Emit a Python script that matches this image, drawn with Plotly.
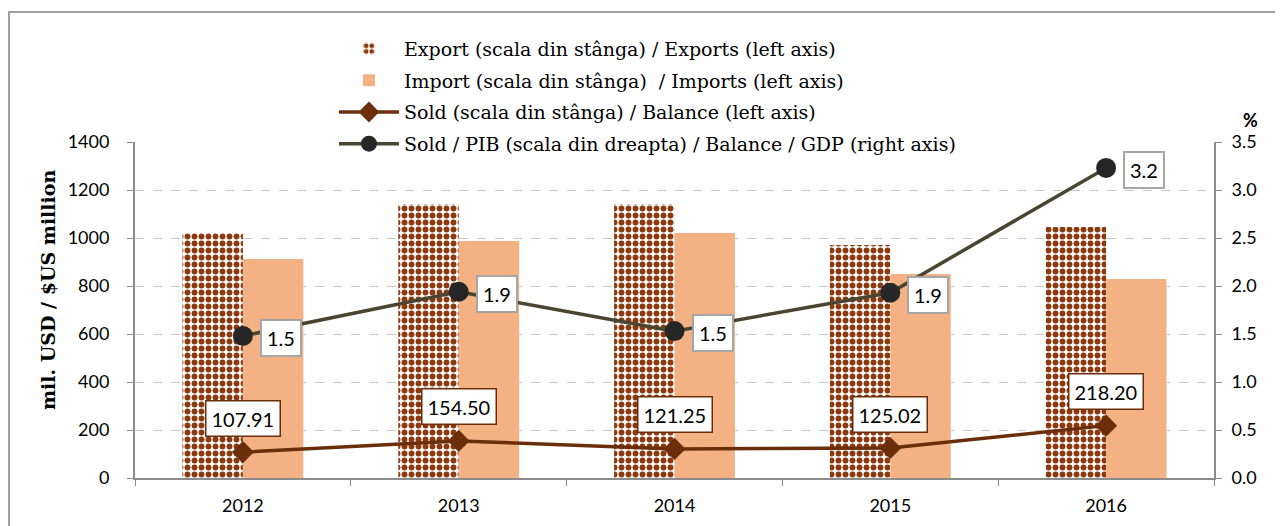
import plotly.graph_objects as go

years = ["2012", "2013", "2014", "2015", "2016"]
exports = [1021, 1142, 1142, 971, 1046]
imports = [912, 988, 1021, 850, 829]
balance = [107.91, 154.50, 121.25, 125.02, 218.20]
balance_gdp = [1.48, 1.94, 1.53, 1.93, 3.23]

left_ticks = [0, 200, 400, 600, 800, 1000, 1200, 1400]
right_ticks = [0.0, 0.5, 1.0, 1.5, 2.0, 2.5, 3.0, 3.5]

BROWN = "#8B3A0F"
SALMON = "#F4B183"
SOLD_C = "#6B2E0A"
GDP_C = "#4A4530"
GRID = "#C8C8C8"
AXIS = "#8C8C8C"

SERIF = "DejaVu Serif"
SANS = "Lato"

fig = go.Figure()

fig.add_trace(go.Bar(
    x=years, y=exports, name="Export (scala din stânga) / Exports (left axis)",
    marker=dict(color="white", line=dict(width=0),
                pattern=dict(shape=".", fgcolor=BROWN, bgcolor="white",
                             fgopacity=1, size=7, solidity=0.55,
                             fillmode="replace")),
    legendgroup="a",
))
fig.add_trace(go.Bar(
    x=years, y=imports, name="Import (scala din stânga)  / Imports (left axis)",
    marker=dict(color=SALMON, line=dict(width=0)),
    legendgroup="b",
))
fig.add_trace(go.Scatter(
    x=years, y=balance, name="Sold (scala din stânga) / Balance (left axis)",
    mode="lines+markers",
    line=dict(color=SOLD_C, width=3.5),
    marker=dict(symbol="diamond", size=17, color=SOLD_C),
    legendgroup="c",
))
fig.add_trace(go.Scatter(
    x=years, y=balance_gdp, name="Sold / PIB (scala din dreapta) / Balance / GDP (right axis)",
    mode="lines+markers", yaxis="y2",
    line=dict(color=GDP_C, width=3.5),
    marker=dict(symbol="circle", size=20, color="#262626"),
    legendgroup="d",
))

annotations = []
for i, v in enumerate(balance):
    annotations.append(dict(
        x=i, y=v, xref="x", yref="y", text=f"{v:.2f}", showarrow=False,
        yshift=34, font=dict(family=SANS, size=20, color="black"),
        bgcolor="white", bordercolor=SOLD_C, borderwidth=1.5, borderpad=5,
    ))
for i, v in enumerate(balance_gdp):
    annotations.append(dict(
        x=i, y=v, xref="x", yref="y2", text=f"{v:.1f}", showarrow=False,
        xshift=38, yshift=-2, font=dict(family=SANS, size=20, color="black"),
        bgcolor="white", bordercolor="#A6A6A6", borderwidth=2, borderpad=5,
    ))
annotations.append(dict(
    x=1.0, y=1.0, xref="paper", yref="paper", text="<b>%</b>", showarrow=False,
    xanchor="center", yanchor="middle", xshift=36, yshift=22,
    font=dict(family=SANS, size=18, color="black"),
))
annotations.append(dict(
    x=-0.0806, y=0.5595, xref="paper", yref="paper",
    text="<b>mil. USD / $US million</b>", showarrow=False, textangle=-90,
    xanchor="center", yanchor="middle",
    font=dict(family=SERIF, size=19, color="black"),
))

fig.update_layout(
    width=1275, height=518,
    margin=dict(l=127, r=69, t=134, b=48, autoexpand=False),
    paper_bgcolor="white", plot_bgcolor="white",
    barmode="group", bargap=0.44, bargroupgap=0,
    showlegend=True,
    legend=dict(
        x=0.1844, xanchor="left", xref="paper",
        y=0.958, yanchor="top", yref="container",
        orientation="v", traceorder="grouped", tracegroupgap=4,
        font=dict(family=SERIF, size=19, color="black"),
        itemwidth=60, bgcolor="rgba(0,0,0,0)",
    ),
    xaxis=dict(
        type="category", automargin=False, range=[-0.5, len(years) - 0.5],
        showline=True, linecolor=AXIS, linewidth=2,
        ticks="outside", tickson="boundaries", ticklen=6, tickcolor=AXIS,
        ticklabelstandoff=10,
        tickfont=dict(family=SANS, size=18, color="black"),
        showgrid=False,
    ),
    yaxis=dict(
        range=[0, 1400], tickvals=left_ticks, automargin=False,
        showline=True, linecolor=AXIS, linewidth=2,
        ticks="outside", ticklen=6, tickcolor=AXIS, ticklabelstandoff=14,
        showgrid=True, gridcolor=GRID, griddash="dash", gridwidth=1,
        zeroline=False,
        tickfont=dict(family=SANS, size=18, color="black"),
    ),
    yaxis2=dict(
        range=[0, 3.5], tickvals=right_ticks, tickformat=".1f", automargin=False,
        overlaying="y", side="right",
        showline=True, linecolor=AXIS, linewidth=2,
        ticks="outside", ticklen=6, tickcolor=AXIS, ticklabelstandoff=6,
        showgrid=False, zeroline=False,
        tickfont=dict(family=SANS, size=18, color="black"),
    ),
    annotations=annotations,
    shapes=[dict(type="rect", xref="paper", yref="paper",
                 x0=-0.1168, x1=1.2, y0=-0.3, y1=1.387,
                 line=dict(color="#A0A0A0", width=2), fillcolor="rgba(0,0,0,0)",
                 layer="below")],
)

fig.write_html("out.html")
